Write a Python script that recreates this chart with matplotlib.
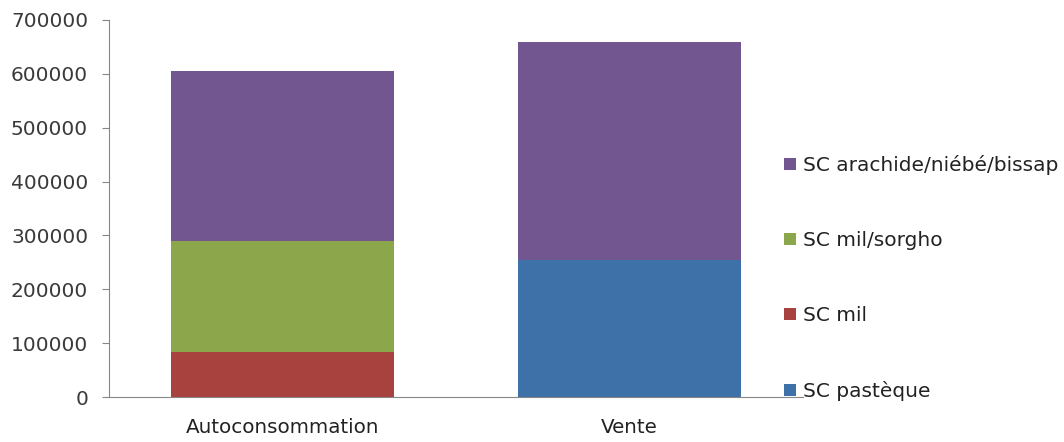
import numpy as np
import matplotlib
matplotlib.use("Agg")
import matplotlib.pyplot as plt

plt.rcParams['font.family'] = ['DejaVu Sans']

categories = ['Autoconsommation', 'Vente']
series_names = ['SC pastèque', 'SC mil', 'SC mil/sorgho', 'SC arachide/niébé/bissap']
pasteque = [0, 255000]
mil = [84000, 0]
mil_sorgho = [206000, 0]
arachide = [315000, 405000]
colors = ['#3e71a8', '#a8423f', '#8ca64b', '#71568f']

fig = plt.figure(figsize=(10.64, 4.42), dpi=100)
ax = fig.add_axes([0.1024, 0.1018, 0.6523, 0.853])

x = np.arange(len(categories))
bottom = np.zeros(len(categories))
handles = []
for name, vals, c in zip(series_names, [pasteque, mil, mil_sorgho, arachide], colors):
    b = ax.bar(x, vals, width=0.643, bottom=bottom, color=c, label=name)
    handles.append(b)
    bottom = bottom + np.array(vals)

ax.set_xlim(-0.5, 1.5)
ax.set_ylim(0, 700000)
ax.set_yticks(range(0, 700001, 100000))
ax.set_xticks(x)
ax.set_xticklabels(categories)

for s in ['top', 'right']:
    ax.spines[s].set_visible(False)
for s in ['left', 'bottom']:
    ax.spines[s].set_color('#868686')
ax.tick_params(axis='y', length=5, color='#868686', labelsize=14.5, labelcolor='#3a3a3a', pad=10)
ax.tick_params(axis='x', length=0, labelsize=14.3, labelcolor='#222222', pad=15)

# legend, top entry first
leg = fig.legend(handles[::-1], series_names[::-1], loc='upper left',
                 bbox_to_anchor=(0.72, 0.69), frameon=False, fontsize=14.5,
                 handlelength=0.6, handleheight=0.6, handletextpad=0.35,
                 labelspacing=2.78)
for t in leg.get_texts():
    t.set_color('#222222')

fig.savefig('out.png', dpi=100)
